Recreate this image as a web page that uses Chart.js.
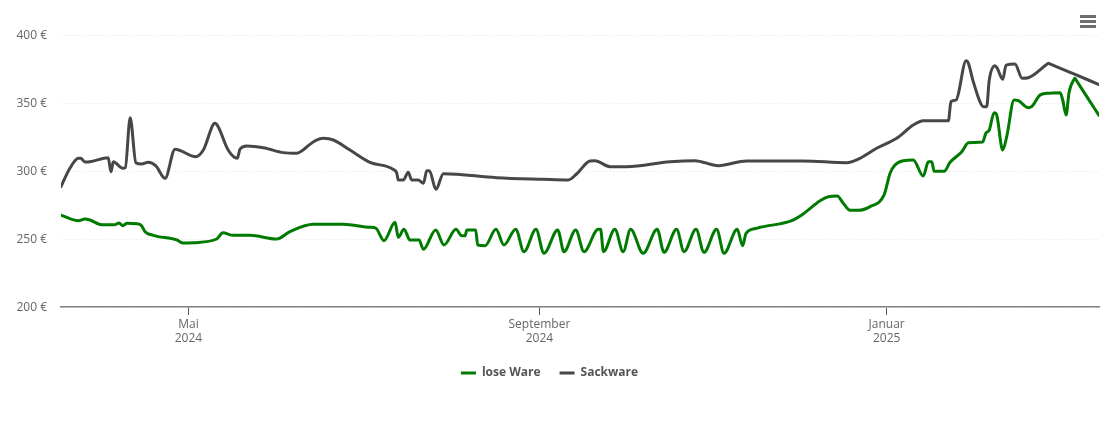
<!DOCTYPE html>
<html lang="de">
<head>
    <meta charset="UTF-8">
    <title>Preisentwicklung</title>
    <script src="https://cdn.jsdelivr.net/npm/chart.js"></script>
    <style>
        body {
            margin: 0;
            background: #fff;
        }
        .chart-box {
            position: relative;
            width: 1110px;
            height: 422px;
        }
        .menu-icon {
            position: absolute;
            left: 1080px;
            top: 15px;
            width: 16px;
        }
        .menu-icon div {
            height: 3px;
            margin-bottom: 2px;
            background: #6e6e6e;
        }
    </style>
</head>
<body>
    <div class="chart-box">
        <canvas id="priceChart" width="1110" height="422"></canvas>
        <div class="menu-icon"><div></div><div></div><div></div></div>
    </div>

    <script>
        // days are counted from mid March 2024, prices in euro
        const seriesNames = ['lose Ware', 'Sackware'];

        const looseDays = [0, 6.1, 8.4, 10.1, 14.2, 18.9, 20.3, 21.6, 23.1, 26.6, 28.2, 29.4, 32.3, 40.5, 42.8, 46.3, 54.5, 56.6, 60.3, 66.1, 75.5, 80.1, 88.3, 98.8, 108.1, 110.2, 113, 116.9, 118, 120, 122.1, 125.3, 126.8, 131.1, 134, 138.2, 140.2, 141.4, 142, 145.1, 145.8, 148.4, 152.2, 155, 159.1, 162, 166.2, 169, 173.8, 176, 180.1, 183, 188, 188.8, 189.8, 193.8, 196.7, 199.3, 203.7, 208.6, 211, 215.4, 218, 222.2, 225, 229.4, 232, 236.6, 238.5, 239.7, 243.4, 244.6, 255.7, 259.7, 265.6, 268.5, 271.6, 273.7, 276.1, 279, 283.1, 288, 290.1, 291.8, 294.7, 298.2, 301.7, 303.5, 304.7, 305.5, 309, 311.1, 315.2, 317.5, 322.5, 323.6, 324.8, 326.5, 327.4, 329.5, 330.9, 333.5, 335, 338.5, 339.6, 342.6, 344.9, 349.6, 350.5, 351.7, 352.7, 354.6, 354.8, 355.2, 359, 363.2];
        const loosePrices = [267.6, 263.5, 264.7, 264, 260.5, 260.5, 261.8, 259.8, 261.5, 261.2, 259.8, 255.4, 252.7, 249.3, 247, 247.3, 250, 254.6, 252.7, 252.7, 250, 255.4, 260.8, 260.8, 258.6, 257.9, 248.8, 262.3, 251.2, 257.1, 249.3, 249.3, 242.4, 256.6, 245.6, 257.1, 252.4, 252.4, 256.6, 256.6, 245.6, 245.1, 257.1, 245.6, 257.1, 240.7, 257.1, 239.5, 256.6, 240.7, 256.6, 240.7, 257.1, 257.1, 240.7, 257.1, 240.7, 257.1, 239.5, 257.1, 240.2, 257.1, 240.7, 257.1, 240.2, 257.1, 239.5, 257.1, 245.1, 254.2, 257.9, 258.6, 263.5, 268.4, 278.2, 281.1, 281.6, 276.3, 271.1, 271.1, 273.8, 282.4, 298.3, 304.4, 307.6, 308.1, 296.3, 306.8, 306.8, 299.8, 299.8, 306.4, 314.2, 320.8, 321.3, 327.7, 330.1, 342.9, 341.2, 315.4, 325.2, 352.2, 351.7, 346.5, 347.3, 355.9, 357.1, 357.6, 352.2, 341.2, 357.6, 367.8, 368.2, 366.9, 354.5, 340.9];

        const sackDays = [0, 3.1, 6.1, 6.9, 8.4, 10.1, 16.5, 17.5, 18.3, 21.6, 22.5, 24.2, 26.2, 28.2, 30.5, 33.2, 36.4, 39.9, 47.2, 49.8, 53.9, 55, 58.5, 61.7, 62.6, 65, 70.8, 77.8, 82.5, 84.7, 87.1, 89.2, 91.8, 95.3, 101.1, 108.1, 116.3, 117.5, 118, 119.8, 121.5, 122.7, 125, 126.8, 128, 128.9, 131.2, 133.8, 152.4, 168.8, 177.5, 180.4, 185.1, 186.8, 192.1, 197.9, 213.1, 221.8, 230, 239.9, 248.1, 259.7, 274.9, 278.4, 285.4, 292.4, 298.2, 301.7, 310.5, 311.4, 313.2, 316.7, 317.5, 319.2, 322.9, 323.9, 324.8, 326.8, 327.6, 329.5, 330.7, 333.8, 336.3, 338.5, 345.2, 345.5, 345.8, 354, 363.2];
        const sackPrices = [288.5, 302, 309.3, 309.3, 306.6, 306.8, 309.8, 299.5, 306.8, 302, 302.4, 339.2, 306.1, 305.1, 306.4, 303.7, 294.6, 316, 310.5, 315.4, 335.1, 332.6, 315.4, 309.3, 316, 318.4, 317.1, 313.5, 313, 315.4, 319.6, 322.5, 324, 322.8, 315.4, 306.4, 301.1, 298.3, 293.4, 293.4, 299, 293.4, 293.4, 291, 300.2, 300.2, 286.5, 298, 295.1, 293.9, 293.4, 297.8, 307.4, 307.6, 303.2, 303.2, 306.8, 307.6, 303.9, 307.4, 307.4, 307.4, 306.1, 308.1, 316.7, 324, 333.8, 337, 337, 351, 352.2, 381.1, 379.2, 365.7, 347.3, 347.3, 366.9, 377.4, 375.5, 367.4, 377.9, 378.7, 368.2, 368.6, 378.8, 379.2, 378.9, 371.7, 363.6];

        const xTickDays = [44.6, 167.4, 288.9];
        const xTickLabels = [['Mai', '2024'], ['September', '2024'], ['Januar', '2025']];
        const yTicks = [200, 250, 300, 350, 400];

        function toPoints(days, prices) {
            return days.map((day, i) => ({ x: day, y: prices[i] }));
        }

        const font = { family: "'Open Sans', sans-serif", size: 12 };

        new Chart(document.getElementById('priceChart'), {
            type: 'line',
            data: {
                datasets: [{
                    label: seriesNames[0],
                    data: toPoints(looseDays, loosePrices),
                    borderColor: '#007a00',
                    backgroundColor: '#007a00'
                }, {
                    label: seriesNames[1],
                    data: toPoints(sackDays, sackPrices),
                    borderColor: '#474747',
                    backgroundColor: '#474747'
                }]
            },
            options: {
                responsive: false,
                animation: false,
                layout: { padding: { top: 35, right: 11, bottom: 33 } },
                elements: {
                    line: { borderWidth: 3, cubicInterpolationMode: 'monotone', borderCapStyle: 'round' },
                    // the legend marker takes its thickness from the point style
                    point: { radius: 0, borderWidth: 3 }
                },
                plugins: {
                    tooltip: { enabled: false },
                    legend: {
                        position: 'bottom',
                        labels: {
                            usePointStyle: true,
                            pointStyle: 'line',
                            pointStyleWidth: 15,
                            padding: 19,
                            color: '#555',
                            font: { family: font.family, size: 12, weight: 'bold' }
                        }
                    }
                },
                scales: {
                    x: {
                        type: 'linear',
                        min: 0,
                        max: 363.2,
                        afterBuildTicks(scale) {
                            scale.ticks = xTickDays.map(value => ({ value }));
                        },
                        afterFit(scale) {
                            scale.height = 41;
                        },
                        grid: { drawOnChartArea: false, tickLength: 8, tickColor: '#555' },
                        border: { color: '#808080', width: 1.5 },
                        ticks: {
                            autoSkip: false,
                            maxRotation: 0,
                            padding: 2,
                            color: '#666',
                            font,
                            callback: (value, i) => xTickLabels[i]
                        }
                    },
                    y: {
                        min: 200,
                        max: 400,
                        afterBuildTicks(scale) {
                            scale.ticks = yTicks.map(value => ({ value }));
                        },
                        afterFit(scale) {
                            scale.width = 61;
                        },
                        grid: { color: '#e6e6e6', drawTicks: false },
                        border: { display: false, dash: [1, 2] },
                        ticks: {
                            padding: 14,
                            labelOffset: 1,
                            color: '#666',
                            font,
                            callback: value => value + ' €'
                        }
                    }
                }
            }
        });
    </script>
</body>
</html>
